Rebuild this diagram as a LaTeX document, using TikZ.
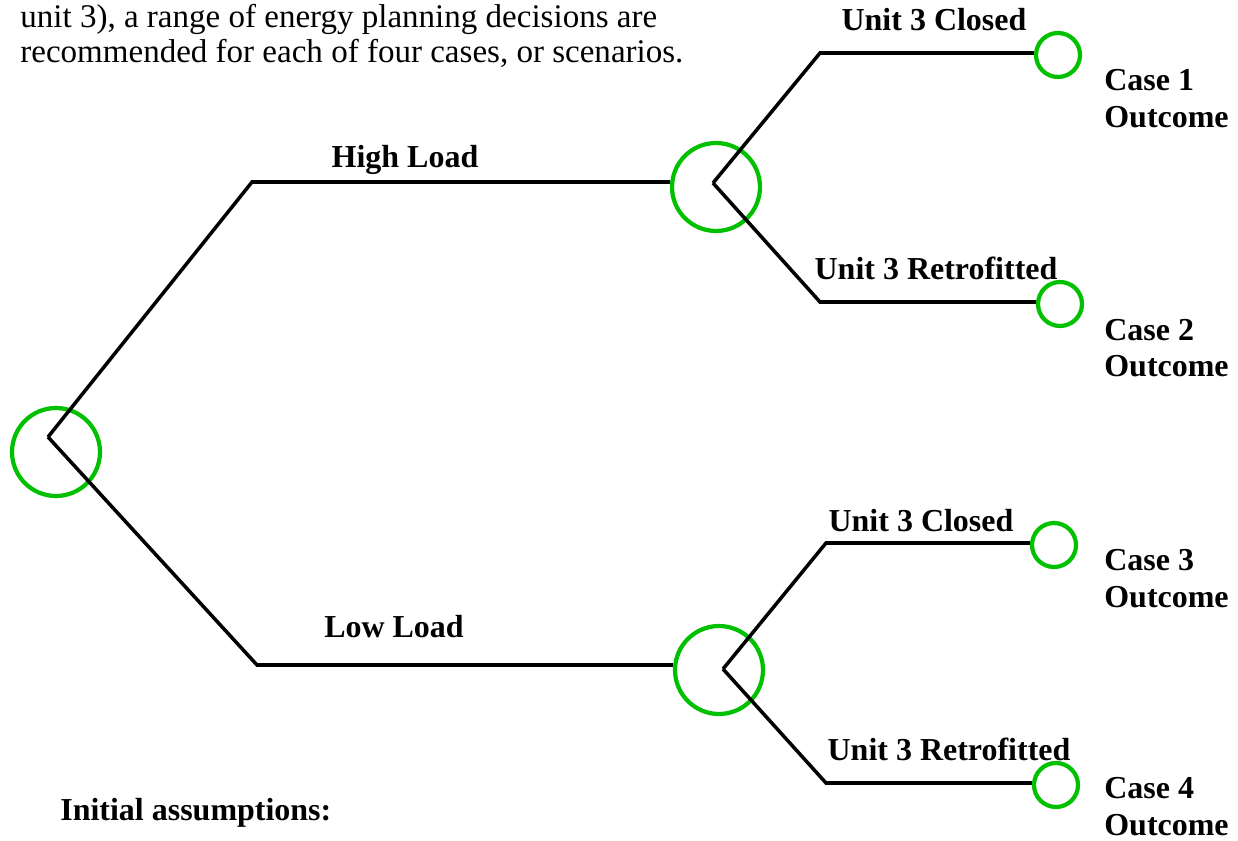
\documentclass[tikz,border=0pt]{standalone}
\usepackage{fontspec}
\setmainfont{Liberation Serif}
\usetikzlibrary{positioning}
\usetikzlibrary{calc}
\definecolor{chancegreen}{RGB}{0,192,0}

\begin{document}
\begin{tikzpicture}[x=0.02cm, y=-0.02cm,
  every node/.style={font=\fontsize{18.8}{21}\selectfont, inner sep=0pt},
  branch/.style={line width=2pt},
  chance/.style={circle, draw=chancegreen, line width=2.4pt, minimum size=1.76cm},
  outcome/.style={circle, draw=chancegreen, line width=2.4pt, minimum size=0.88cm},
  lbl/.style={font=\fontsize{18.2}{21}\selectfont\bfseries, anchor=base}]
\useasboundingbox (0,0) rectangle (1238,841);

%text above the tree
\node[anchor=base west] (intro1) at (20,28) {unit 3), a range of energy planning decisions are};
\node[anchor=base west] (intro2) at (20,63) {recommended for each of four cases, or scenarios.};

%chance nodes
\node[chance] (root) at (56,452) {};
\node[chance] (high) at (716,187) {};
\node[chance] (low) at (719,670) {};
\foreach \n/\x/\y in {1/1058/55, 2/1060/304, 3/1054/545, 4/1056/785} {
  \node[outcome] (end\n) at (\x,\y) {};
}

%branch points
\coordinate (r0) at (48,437);
\coordinate (r1) at (252,182);
\coordinate (r2) at (257,665);
\coordinate (h0) at (713,183);
\coordinate (h1) at (820,53);
\coordinate (h2) at (820,302);
\coordinate (l0) at (723,669);
\coordinate (l1) at (826,543);
\coordinate (l2) at (826,783);

\draw[branch] (r0) -- (r1) -- (r1 -| high.west);
\draw[branch] (r0) -- (r2) -- (r2 -| low.west);
\draw[branch] (h0) -- (h1) -- (h1 -| end1.west);
\draw[branch] (h0) -- (h2) -- (h2 -| end2.west);
\draw[branch] (l0) -- (l1) -- (l1 -| end3.west);
\draw[branch] (l0) -- (l2) -- (l2 -| end4.west);

%labels
\node[lbl] (hl) at (405,168) {High Load};
\node[lbl] (ll) at (394,637) {Low Load};
\node[lbl] (u1) at (934,31) {Unit 3 Closed};
\node[lbl] (u2) at (936,280) {Unit 3 Retrofitted};
\node[lbl] (u3) at (921,531) {Unit 3 Closed};
\node[lbl] (u4) at (949,760) {Unit 3 Retrofitted};
\foreach \n/\y in {1/91, 2/340, 3/570, 4/798} {
  \node[lbl, anchor=base west] (case\n) at (1104,\y) {Case \n};
  \node[lbl, anchor=base west] (out\n) at (1104,\y+37) {Outcome};
}
\node[lbl, anchor=base west] (init) at (60,820) {Initial assumptions:};
\end{tikzpicture}
\end{document}
